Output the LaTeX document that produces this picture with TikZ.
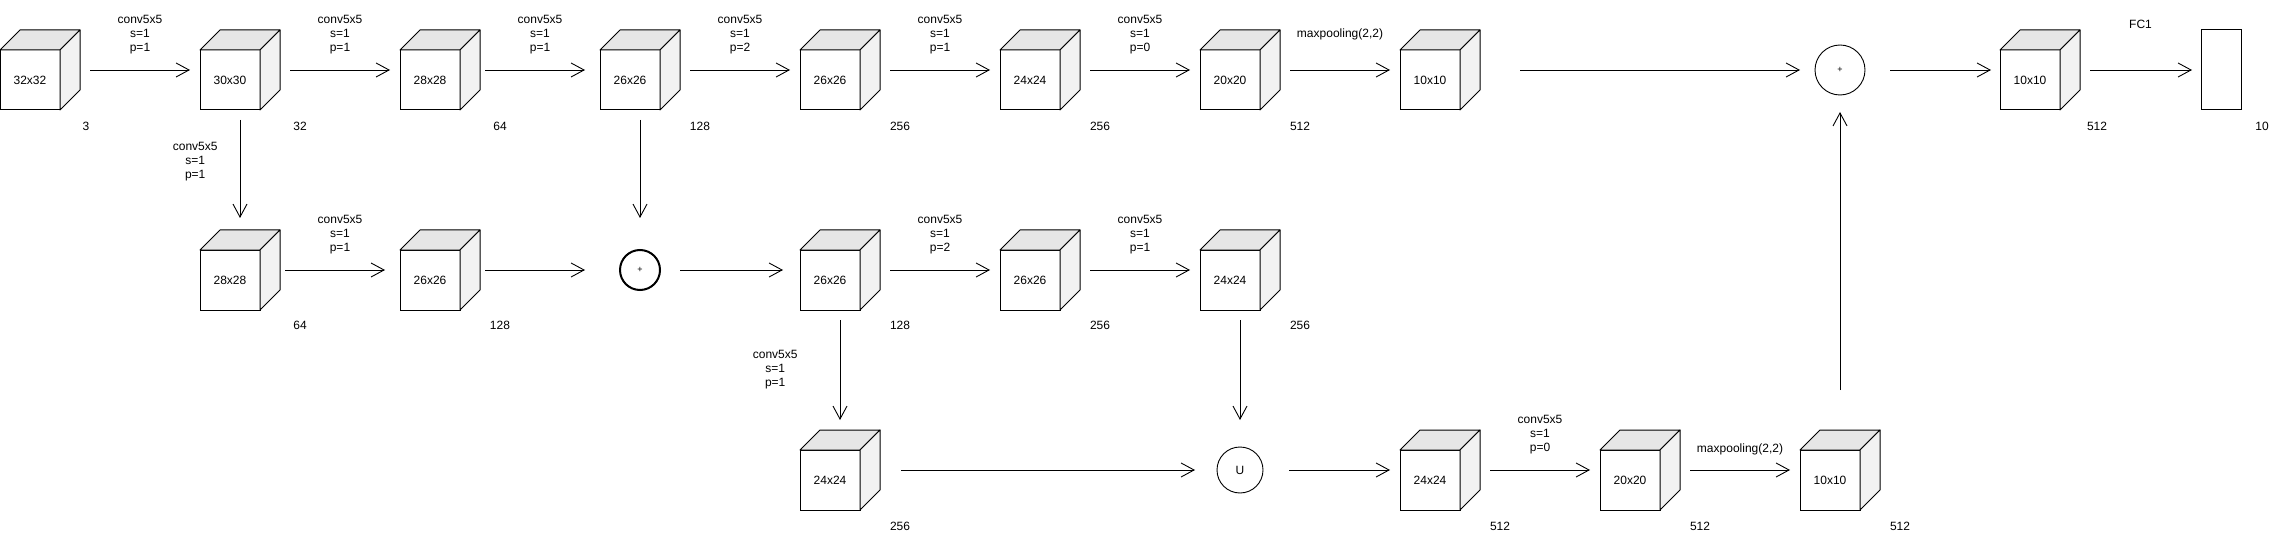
\documentclass[tikz,border=0pt]{standalone}
\usepackage{fontspec}
\setmainfont{Liberation Sans}
\usepackage{tikz}
\usetikzlibrary{calc}
\usetikzlibrary{arrows.meta}

\definecolor{topgray}{HTML}{E6E6E6}
\definecolor{sidegray}{HTML}{F2F2F2}

\begin{document}
\begin{tikzpicture}[x=1pt,y=-1pt,
  box/.style={minimum width=80pt,minimum height=80pt,inner sep=0pt,outer sep=0pt},
  front/.style={draw,fill=white,line width=\lwblk,minimum width=60pt,minimum height=60pt,inner sep=0pt,outer sep=0pt,font=\fs},
  face/.style={draw,line width=\lwblk,line join=round},
  arr/.style={line width=\lw,-{Straight Barb[length=13pt,width=14pt]},shorten <=10pt,shorten >=10pt},
  lbl/.style={inner sep=0pt,align=center,font=\fs},
  num/.style={inner sep=0pt,font=\fs},
  opnode/.style={circle,draw,line width=\lw,inner sep=0pt,outer sep=0pt}]

\def\lw{0.9pt}
\def\lwblk{1pt}
\def\fs{\fontsize{12}{14}\selectfont}

% #1 name, #2 x, #3 y (top of the box), #4 size
\def\cube#1#2#3#4{%
  \node[box] (#1) at (#2+40,#3+40) {};
  \node[front] (#1-f) at (#2+30,#3+50) {#4};
  \draw[face,fill=topgray] (#1-f.north west) -- ++(20,-20) -- (#1.north east) -- (#1-f.north east) -- cycle;
  \draw[face,fill=sidegray] (#1-f.north east) -- (#1.north east) -- ++(0,60) -- (#1-f.south east) -- cycle;
}

\useasboundingbox (0,0) rectangle (2281,540);

% top row
\cube{c1}{0}{30}{32x32}
\cube{c2}{200}{30}{30x30}
\cube{c3}{400}{30}{28x28}
\cube{c4}{600}{30}{26x26}
\cube{c5}{800}{30}{26x26}
\cube{c6}{1000}{30}{24x24}
\cube{c7}{1200}{30}{20x20}
\cube{c8}{1400}{30}{10x10}
\node[opnode,minimum size=50pt,font=\fontsize{9}{9}\selectfont] (p1) at (1840,70) {+};
\cube{c9}{2000}{30}{10x10}
\node[draw,line width=\lwblk,minimum width=40pt,minimum height=80pt,inner sep=0pt,outer sep=0pt] (fc) at (2221,70) {};

% middle row
\cube{d1}{200}{230}{28x28}
\cube{d2}{400}{230}{26x26}
\node[opnode,line width=2pt,minimum size=40pt,font=\fontsize{9}{9}\selectfont] (p2) at (640,270) {+};
\cube{d3}{800}{230}{26x26}
\cube{d4}{1000}{230}{26x26}
\cube{d5}{1200}{230}{24x24}

% bottom row
\cube{e1}{800}{430}{24x24}
\node[opnode,minimum size=46pt,font=\fs] (u) at (1240,470) {U};
\cube{e2}{1400}{430}{24x24}
\cube{e3}{1600}{430}{20x20}
\cube{e4}{1800}{430}{10x10}

% channels
\node[num] (n1) at ($(c1.south east)+(6,16)$) {3};
\node[num] (n2) at ($(c2.south east)+(20,16)$) {32};
\node[num] (n3) at ($(c3.south east)+(20,16)$) {64};
\node[num] (n4) at ($(c4.south east)+(20,16)$) {128};
\node[num] (n5) at ($(c5.south east)+(20,16)$) {256};
\node[num] (n6) at ($(c6.south east)+(20,16)$) {256};
\node[num] (n7) at ($(c7.south east)+(20,16)$) {512};
\node[num] (n9) at ($(c9.south east)+(17,16)$) {512};
\node[num] (nfc) at ($(fc.south east)+(21,16)$) {10};
\node[num] (m1) at ($(d1.south east)+(20,15)$) {64};
\node[num] (m2) at ($(d2.south east)+(20,15)$) {128};
\node[num] (m3) at ($(d3.south east)+(20,15)$) {128};
\node[num] (m4) at ($(d4.south east)+(20,15)$) {256};
\node[num] (m5) at ($(d5.south east)+(20,15)$) {256};
\node[num] (k1) at ($(e1.south east)+(20,16)$) {256};
\node[num] (k2) at ($(e2.south east)+(20,16)$) {512};
\node[num] (k3) at ($(e3.south east)+(20,16)$) {512};
\node[num] (k4) at ($(e4.south east)+(20,16)$) {512};

\draw[arr] (c1) -- (c2) node[lbl,midway,above=16pt] (a1) {conv5x5\\s=1\\p=1};
\draw[arr] (c2) -- (c3) node[lbl,midway,above=16pt] (a2) {conv5x5\\s=1\\p=1};
\draw[arr,shorten <=5pt,shorten >=15pt] (c3) -- (c4) node[lbl,midway,above=16pt] (a3) {conv5x5\\s=1\\p=1};
\draw[arr] (c4) -- (c5) node[lbl,midway,above=16pt] (a4) {conv5x5\\s=1\\p=2};
\draw[arr] (c5) -- (c6) node[lbl,midway,above=16pt] (a5) {conv5x5\\s=1\\p=1};
\draw[arr] (c6) -- (c7) node[lbl,midway,above=16pt] (a6) {conv5x5\\s=1\\p=0};
\draw[arr] (c7) -- (c8) node[lbl,midway,above=30pt] (a7) {maxpooling(2,2)};
\draw[arr,shorten <=40pt,shorten >=15pt] (c8) -- (p1);
\draw[arr,shorten <=25pt,shorten >=9pt] (p1) -- (c9);
\draw[arr,shorten >=9pt] (c9) -- (fc) node[lbl,midway,above=41pt] (a8) {FC1};

\draw[arr,shorten >=12pt] (c2) -- (d1) node[lbl,pos=0.43,left=22pt] (b1) {conv5x5\\s=1\\p=1};
\draw[arr,shorten >=32pt] (c4) -- (p2);
\draw[arr,shorten <=5pt,shorten >=15pt] (d1) -- (d2) node[lbl,midway,above=16pt] (b2) {conv5x5\\s=1\\p=1};
\draw[arr,shorten <=5pt,shorten >=35pt] (d2) -- (p2);
\draw[arr,shorten <=20pt,shorten >=17pt] (p2) -- (d3);
\draw[arr] (d3) -- (d4) node[lbl,midway,above=16pt] (b3) {conv5x5\\s=1\\p=2};
\draw[arr] (d4) -- (d5) node[lbl,midway,above=16pt] (b4) {conv5x5\\s=1\\p=1};
\draw[arr] (d3) -- (e1) node[lbl,midway,left=42pt] (b5) {conv5x5\\s=1\\p=1};
\draw[arr,shorten >=27pt] (d5) -- (u);

\draw[arr,shorten <=21pt,shorten >=22pt] (e1) -- (u);
\draw[arr,shorten <=26pt] (u) -- (e2);
\draw[arr] (e2) -- (e3) node[lbl,midway,above=16pt] (g1) {conv5x5\\s=1\\p=0};
\draw[arr] (e3) -- (e4) node[lbl,midway,above=15pt] (g2) {maxpooling(2,2)};
\draw[arr,shorten <=40pt,shorten >=17pt] (e4) -- (p1);

\end{tikzpicture}
\end{document}
